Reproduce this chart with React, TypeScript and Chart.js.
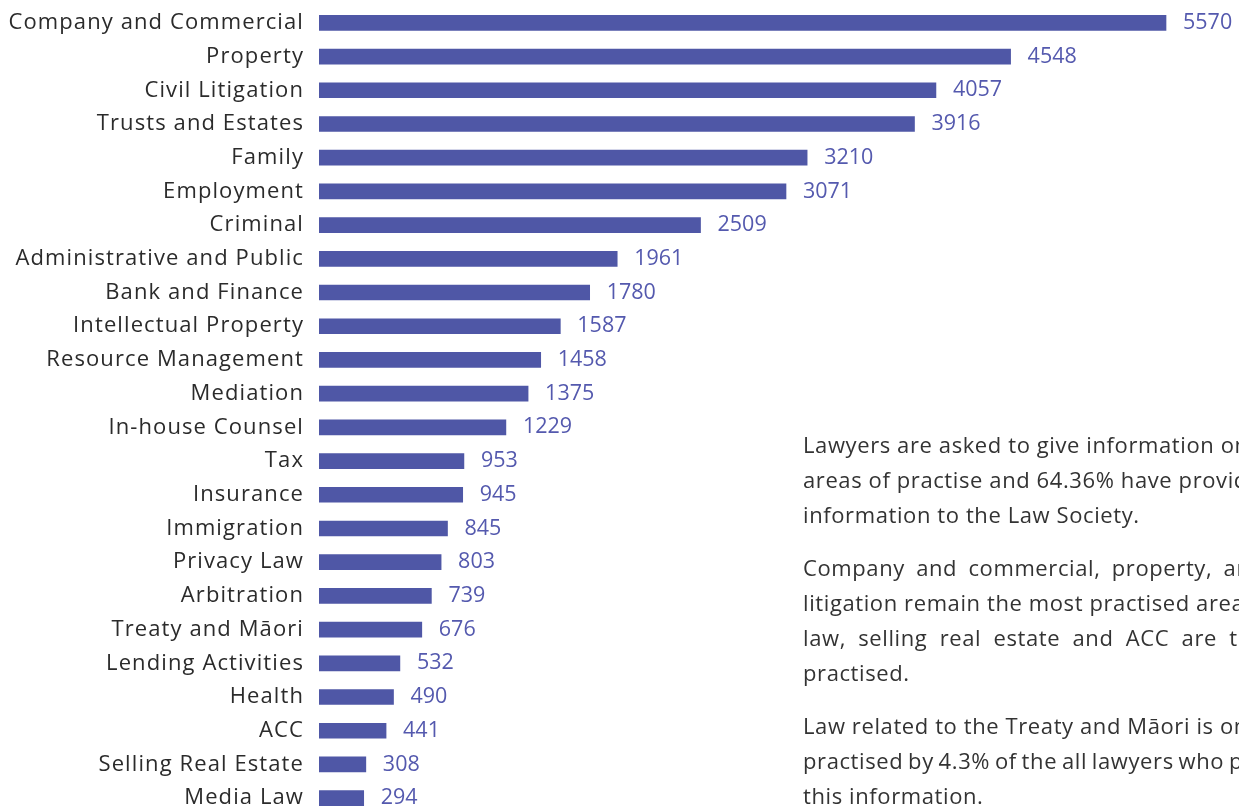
import React, { useEffect, useRef } from "react";
import { Chart, registerables } from "chart.js";

Chart.register(...registerables);

const categories = [
  "Company and Commercial",
  "Property",
  "Civil Litigation",
  "Trusts and Estates",
  "Family",
  "Employment",
  "Criminal",
  "Administrative and Public",
  "Bank and Finance",
  "Intellectual Property",
  "Resource Management",
  "Mediation",
  "In-house Counsel",
  "Tax",
  "Insurance",
  "Immigration",
  "Privacy Law",
  "Arbitration",
  "Treaty and Māori",
  "Lending Activities",
  "Health",
  "ACC",
  "Selling Real Estate",
  "Media Law",
];

const values = [
  5570, 4548, 4057, 3916, 3210, 3071, 2509, 1961, 1780, 1587, 1458, 1375,
  1229, 953, 945, 845, 803, 739, 676, 532, 490, 441, 308, 294,
];

const xMin = 0;
const xMax = 6050;

// Each paragraph: list of [line text, word-spacing px]
const paragraph1 = [
  ["Lawyers are asked to give information on their", 0],
  ["areas of practise and 64.36% have provided this", 0],
  ["information to the Law Society.", 0],
];
const paragraph2 = [
  ["Company and commercial, property, and civil", 5],
  ["litigation remain the most practised areas, media", 0],
  ["law, selling real estate and ACC are the least", 6],
  ["practised.", 0],
];
const paragraph3 = [
  ["Law related to the Treaty and Māori is only", 0],
  ["practised by 4.3% of the all lawyers who provided", -1.5],
  ["this information.", 0],
];
const paragraphs = [paragraph1, paragraph2, paragraph3];

const BAR_COLOR = "#4F57A6";
const VALUE_COLOR = "#5459AE";
const LABEL_COLOR = "#2B2B2B";
const TEXT_COLOR = "#333333";
const FONT = "'Open Sans', sans-serif";

const spacingPlugin = {
  id: "spacing",
  beforeDraw(chart: any) {
    chart.ctx.letterSpacing = "1.1px";
  },
  afterDraw(chart: any) {
    chart.ctx.letterSpacing = "0px";
  },
};

const valueLabels = {
  id: "valueLabels",
  afterDatasetsDraw(chart: any) {
    const ctx = chart.ctx;
    const meta = chart.getDatasetMeta(0);
    ctx.save();
    ctx.letterSpacing = "0px";
    ctx.font = "21.5px " + FONT;
    ctx.fillStyle = VALUE_COLOR;
    ctx.textBaseline = "middle";
    ctx.textAlign = "left";
    meta.data.forEach((el: any, i: number) => {
      ctx.fillText(String(values[i]), el.x + 17, el.y);
    });
    ctx.restore();
  },
};

export default function App() {
  const ref = useRef<HTMLCanvasElement | null>(null);

  useEffect(() => {
    if (!ref.current) return;
    const chart = new Chart(ref.current, {
      type: "bar",
      data: {
        labels: categories,
        datasets: [
          {
            data: values,
            backgroundColor: BAR_COLOR,
            borderWidth: 0,
            barThickness: 15,
          },
        ],
      },
      options: {
        indexAxis: "y",
        animation: false,
        responsive: true,
        maintainAspectRatio: false,
        layout: { padding: { left: 0, right: 0, top: 6, bottom: 15 } },
        plugins: {
          legend: { display: false },
          tooltip: { enabled: false },
        },
        scales: {
          x: {
            display: false,
            min: xMin,
            max: xMax,
          },
          y: {
            afterFit: (s: any) => {
              s.width = 319;
              s.paddingTop = 0;
              s.paddingBottom = 0;
            },
            grid: { display: false, drawTicks: false },
            border: { display: false },
            ticks: {
              autoSkip: false,
              padding: 15,
              color: LABEL_COLOR,
              font: { family: FONT, size: 22 },
            },
          },
        },
      },
      plugins: [spacingPlugin, valueLabels],
    });
    return () => chart.destroy();
  }, []);

  return (
    <div
      style={{
        position: "fixed",
        left: 0,
        top: 0,
        width: 1239,
        height: 809,
        overflow: "hidden",
        background: "#ffffff",
      }}
    >
      <div style={{ position: "absolute", left: 0, top: 0, width: 1239, height: 830 }}>
        <canvas ref={ref} />
      </div>
      <div
        style={{
          position: "absolute",
          left: 803,
          top: 427,
          width: 800,
          fontFamily: FONT,
          fontSize: 22,
          letterSpacing: "0.6px",
          lineHeight: "35px",
          color: TEXT_COLOR,
        }}
      >
        {paragraphs.map((p, pi) => (
          <div key={pi} style={{ marginBottom: 18 }}>
            {p.map(([t, ws], li) => (
              <div key={li} style={{ whiteSpace: "nowrap", wordSpacing: ws as number }}>
                {t}
              </div>
            ))}
          </div>
        ))}
      </div>
    </div>
  );
}
